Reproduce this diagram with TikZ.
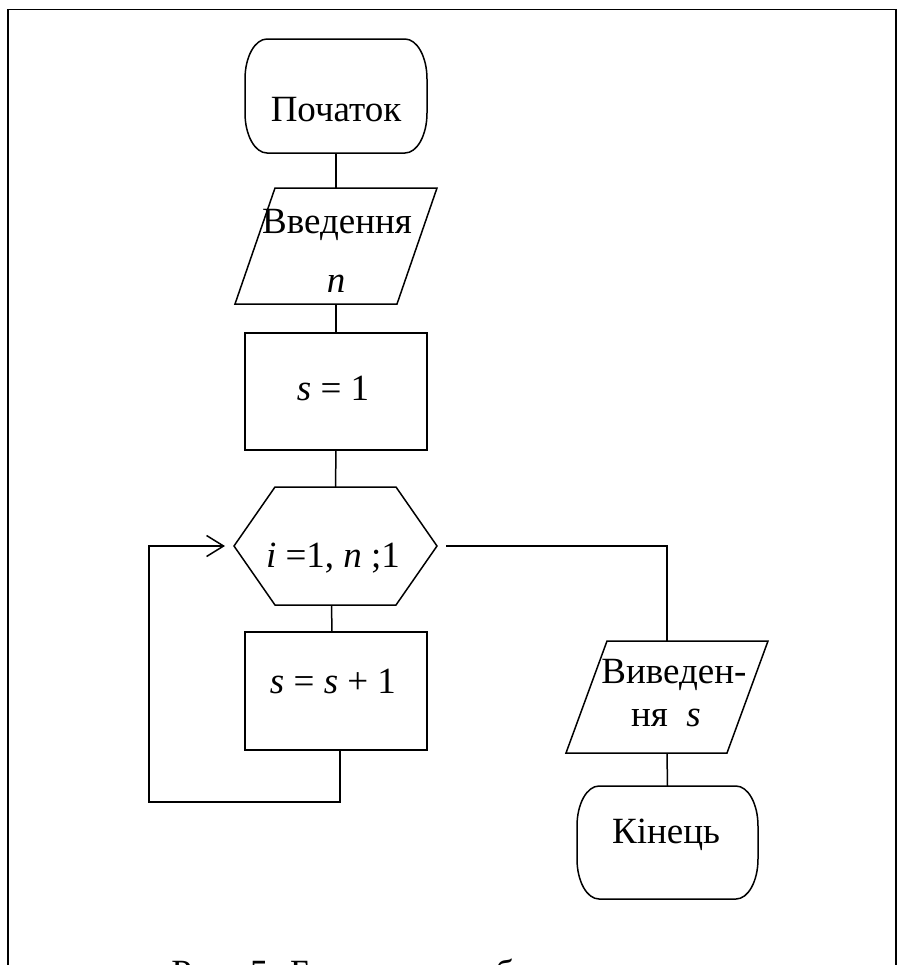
\documentclass[tikz,border=0pt]{standalone}
\usepackage{fontspec}
\setmainfont{Liberation Serif}
\usetikzlibrary{arrows.meta}

% outline of a terminal block: flat top and bottom, rounded sides
\newcommand{\termoutline}[1]{%
  \draw[figline] ([xshift=11pt]#1.north west) -- ([xshift=-11pt]#1.north east)
    arc[start angle=90,end angle=0,x radius=22,y radius=40]
    -- ([yshift=20pt]#1.south east)
    arc[start angle=0,end angle=-90,x radius=22,y radius=40]
    -- ([xshift=11pt]#1.south west)
    arc[start angle=270,end angle=180,x radius=22,y radius=40]
    -- ([yshift=-20pt]#1.north west)
    arc[start angle=180,end angle=90,x radius=22,y radius=40]
    -- cycle;}
% outline of an input/output block (parallelogram leaning right)
\newcommand{\paraoutline}[2]{%
  \draw[figline] ([xshift=#2]#1.north west) -- (#1.north east)
    -- ([xshift=-#2]#1.south east) -- (#1.south west) -- cycle;}
% outline of a loop header (hexagon)
\newcommand{\hexoutline}[2]{%
  \draw[figline] (#1.west) -- ([xshift=#2]#1.north west)
    -- ([xshift=-#2]#1.north east) -- (#1.east)
    -- ([xshift=-#2]#1.south east) -- ([xshift=#2]#1.south west) -- cycle;}

\begin{document}
\begin{tikzpicture}[x=0.5pt,y=0.5pt,
  figline/.style={line width=0.75pt, line join=miter},
  holder/.style={draw=none, inner sep=0pt, outer sep=0pt},
  procbox/.style={draw, line width=0.75pt, minimum width=91pt, inner sep=0pt, outer sep=0pt},
  txt/.style={font=\fontsize{18.5pt}{22pt}\selectfont, inner sep=0pt},
  flow/.style={line width=0.75pt}]
\useasboundingbox (0,0) rectangle (898,-965);

% page frame
\draw[line width=0.9pt] (8,-980) -- (8,-9.5) -- (896,-9.5) -- (896,-980);

% blocks
\node[holder, minimum width=91pt, minimum height=57pt] (start) at (336,-96) {};
\node[holder, minimum width=101pt, minimum height=58pt] (inp) at (336,-246) {};
\node[procbox, minimum height=58.5pt] (init) at (336,-391.5) {};
\node[holder, minimum width=101.5pt, minimum height=59pt] (loop) at (335.5,-546) {};
\node[procbox, minimum height=59pt] (body) at (336,-691) {};
\node[holder, minimum width=101pt, minimum height=56pt] (out) at (667,-697) {};
\node[holder, minimum width=90.5pt, minimum height=56.5pt] (stop) at (667.5,-842.5) {};

\termoutline{start}
\paraoutline{inp}{20pt}
\hexoutline{loop}{20.5pt}
\paraoutline{out}{20.5pt}
\termoutline{stop}

% block texts
\node[txt, anchor=base] (starttext) at (336,-121) {Початок};
\node[txt, anchor=base] (inptext) at (337,-233) {Введення};
\node[txt, anchor=base] (inpvar) at (336,-292) {\textit{n}};
\node[txt, anchor=base] (inittext) at (333,-400) {\textit{s} = 1};
\node[txt, anchor=base] (looptext) at (333,-567) {\textit{i} =1, \textit{n} ;1};
\node[txt, anchor=base] (bodytext) at (333,-693) {\textit{s} = \textit{s} + 1};
\node[txt, anchor=base] (outtext) at (674,-683) {Виведен-};
\node[txt, anchor=base] (outvar) at (666,-726) {ня\ \ \textit{s}};
\node[txt, anchor=base] (stoptext) at (666,-843) {Кінець};

% connectors
\draw[flow] (start.south) -- (inp.north);
\draw[flow] (inp.south) -- (init.north);
\draw[flow] (init.south) -- (loop.north);
\draw[flow] ([xshift=-2pt]loop.south) -- ([xshift=-2pt]body.north);
\draw[flow, shorten <=4.5pt] (loop.east) -| (out.north);
\draw[flow] (out.south) -- (stop.north);
\draw[flow, -{Straight Barb[length=8.5pt,width=10.5pt]}, shorten >=4.5pt]
  ([xshift=2pt]body.south) -- ++(0,-52) -| ([xshift=-42.5pt]loop.west) -- (loop.west);

% caption
\node[txt, anchor=base west] (caption) at (171,-985) {Рис. 5. Блок-схема обчислення};
\end{tikzpicture}
\end{document}
